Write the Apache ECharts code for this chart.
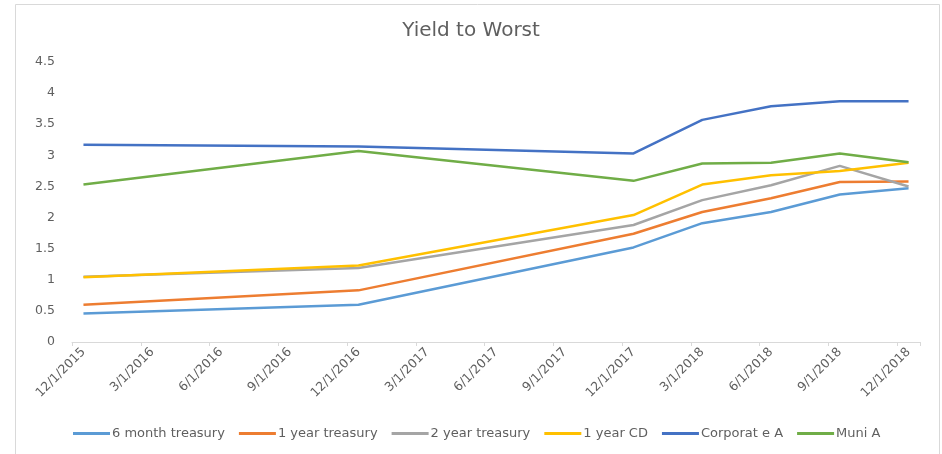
<!DOCTYPE html>
<html>
<head>
<meta charset="utf-8">
<title>Yield to Worst</title>
<script src="https://cdn.jsdelivr.net/npm/echarts@6/dist/echarts.min.js"></script>
<style>
  html, body { margin: 0; padding: 0; background: #fff; }
  #chart { width: 942px; height: 454px; }
</style>
</head>
<body>
<div id="chart"></div>
<script>
// Observation dates and yields (%)
const obsDates = ['12/1/2015', '12/1/2016', '12/1/2017', '3/1/2018', '6/1/2018', '9/1/2018', '12/1/2018'];
const sixMonthTreasury = [0.46, 0.60, 1.52, 1.91, 2.09, 2.37, 2.47];
const oneYearTreasury  = [0.60, 0.83, 1.74, 2.09, 2.31, 2.57, 2.58];
const twoYearTreasury  = [1.05, 1.19, 1.88, 2.28, 2.52, 2.83, 2.50];
const oneYearCD        = [1.04, 1.23, 2.04, 2.53, 2.68, 2.75, 2.88];
const corporateA       = [3.17, 3.14, 3.03, 3.57, 3.79, 3.87, 3.87];
const muniA            = [2.53, 3.07, 2.59, 2.87, 2.88, 3.03, 2.89];

const seriesNames  = ['6 month treasury', '1 year treasury', '2 year treasury', '1 year CD', 'Corporat e A', 'Muni A'];
const seriesValues = [sixMonthTreasury, oneYearTreasury, twoYearTreasury, oneYearCD, corporateA, muniA];
const seriesColors = ['#5B9BD5', '#ED7D31', '#A5A5A5', '#FFC000', '#4472C4', '#70AD47'];

// Monthly date axis from Dec 2015 through Dec 2018
const months = [];
for (let m = 0; m <= 36; m++) {
  const total = 11 + m;                 // months since Jan 2015
  const year = 2015 + Math.floor(total / 12);
  const month = (total % 12) + 1;
  months.push(month + '/1/' + year);
}

const textColor = '#5f5f5f';
const font = '"DejaVu Sans", "Open Sans", sans-serif';

const chart = echarts.init(document.getElementById('chart'), null, { renderer: 'canvas' });
chart.setOption({
  animation: false,
  backgroundColor: '#ffffff',
  textStyle: { fontFamily: font },
  title: {
    text: 'Yield to Worst',
    left: 'center',
    top: 16,
    textStyle: { fontFamily: font, fontSize: 20, fontWeight: 'normal', color: textColor }
  },
  graphic: [{
    type: 'rect',
    silent: true,
    shape: { x: 15.5, y: 4.5, width: 924, height: 480 },
    style: { fill: 'none', stroke: '#d9d9d9', lineWidth: 1 }
  }],
  grid: { left: 72, top: 62, width: 848, height: 280 },
  xAxis: {
    type: 'category',
    data: months,
    boundaryGap: true,
    axisLine: { lineStyle: { color: '#d9d9d9', width: 1 } },
    axisTick: { show: true, interval: 2, length: 4, lineStyle: { color: '#d9d9d9' } },
    axisLabel: {
      interval: 2,
      rotate: 45,
      margin: 8,
      fontFamily: font,
      fontSize: 12.5,
      color: textColor
    },
    splitLine: { show: false }
  },
  yAxis: {
    type: 'value',
    min: 0,
    max: 4.5,
    interval: 0.5,
    axisLine: { show: false },
    axisTick: { show: false },
    splitLine: { show: false },
    axisLabel: { margin: 17, fontFamily: font, fontSize: 12.5, color: textColor }
  },
  legend: {
    left: 68,
    top: 422,
    icon: 'rect',
    itemWidth: 37,
    itemHeight: 3,
    itemGap: 14,
    textStyle: { fontFamily: font, fontSize: 13, color: textColor, padding: [0, 0, 0, -3] },
    data: seriesNames
  },
  series: seriesNames.map((name, i) => ({
    name: name,
    type: 'line',
    data: obsDates.map((d, j) => [d, seriesValues[i][j]]),
    showSymbol: false,
    symbol: 'none',
    lineStyle: { width: 2.5, color: seriesColors[i] },
    itemStyle: { color: seriesColors[i] }
  }))
});
</script>
</body>
</html>
